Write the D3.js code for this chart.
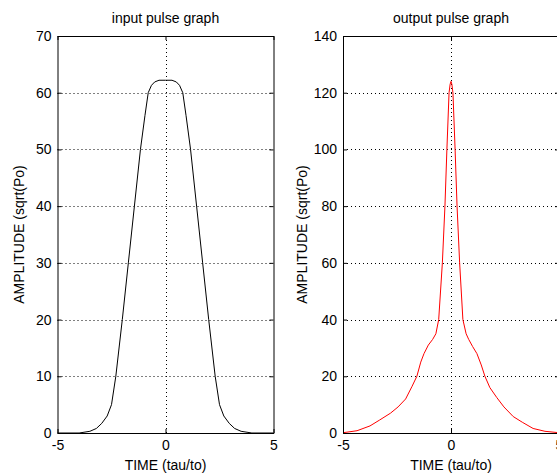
<!DOCTYPE html>
<html>
<head>
<meta charset="utf-8">
<script src="https://cdn.jsdelivr.net/npm/d3@7"></script>
<style>
    body { margin: 0; background: #fff; overflow: hidden; }
    svg { display: block; font-family: "Liberation Sans", Arial, sans-serif; }
    .axis text { font-size: 14px; fill: #000; }
    .axis path, .axis line { stroke: #000; }
    .grid line { stroke: #000; stroke-dasharray: 1,3; }
</style>
</head>
<body>
<script>
"use-strict";

var width = 557,
    height = 473;

// input pulse (left panel)
var inputTime = [-5, -4, -3.5, -3.2, -2.95, -2.7, -2.5, -2.3, -2.0, -1.72, -1.44, -1.16, -0.95, -0.8, -0.65, -0.5, -0.3,
                 0, 0.3, 0.5, 0.65, 0.8, 0.95, 1.16, 1.44, 1.72, 2.0, 2.3, 2.5, 2.7, 2.95, 3.2, 3.5, 4, 5];
var inputAmp = [0, 0, 0.3, 0.8, 1.7, 3.0, 5.0, 10, 20, 30, 40, 50, 56, 60, 61.3, 61.9, 62.2,
                62.2, 62.2, 61.9, 61.3, 60, 56, 50, 40, 30, 20, 10, 5.0, 3.0, 1.7, 0.8, 0.3, 0, 0];

// output pulse (right panel)
var outputTime = [-5, -4.35, -3.75, -3.3, -2.8, -2.45, -2.1, -1.8, -1.58, -1.4, -1.25, -1.05, -0.85, -0.7, -0.57,
                  -0.4, -0.28, -0.19, -0.09, -0.04, 0, 0.04, 0.09, 0.19, 0.28, 0.4, 0.55, 0.7, 0.82, 1.0, 1.2,
                  1.4, 1.57, 1.8, 2.12, 2.45, 2.88, 3.3, 3.8, 4.35, 5];
var outputAmp = [0.1, 0.8, 2.5, 4.6, 7, 9.2, 12, 16.5, 20, 25, 28, 31, 33, 35, 40,
                 60, 80, 100, 120, 123, 124, 123, 120, 100, 80, 60, 40, 35, 33, 30.5, 28,
                 24, 20, 16, 12.5, 9.2, 5.8, 3.8, 1.6, 0.6, 0.1];

var xTicks = [-5, 0, 5];
var inputTicks = [0, 10, 20, 30, 40, 50, 60, 70];
var outputTicks = [0, 20, 40, 60, 80, 100, 120, 140];

var panels = [
    { title: "input pulse graph", t: inputTime, a: inputAmp, yMax: 70, yTicks: inputTicks,
      left: 57.5, right: 273.5, ylab: 23.5, color: "#000" },
    { title: "output pulse graph", t: outputTime, a: outputAmp, yMax: 140, yTicks: outputTicks,
      left: 343, right: 559, ylab: 307, color: "#ff0000" }
];

var yTop = 36, yBottom = 433;

function plain(d) { return String(d); }

var svg = d3.select("body")
    .append("svg")
    .attr("width", width)
    .attr("height", height);

panels.forEach(function (p) {
    var x = d3.scaleLinear().domain([-5, 5]).range([p.left, p.right]);
    var y = d3.scaleLinear().domain([0, p.yMax]).range([yBottom, yTop]);
    var g = svg.append("g");

    // dotted grid
    var grid = g.append("g").attr("class", "grid");
    grid.selectAll(".gy").data(p.yTicks.slice(1, -1)).enter()
        .append("line")
        .attr("x1", p.left).attr("x2", p.right)
        .attr("y1", function (d) { return Math.round(y(d)) + 0.5; })
        .attr("y2", function (d) { return Math.round(y(d)) + 0.5; });
    grid.selectAll(".gx").data(xTicks.slice(1, -1)).enter()
        .append("line")
        .attr("y1", yTop).attr("y2", yBottom)
        .attr("x1", function (d) { return Math.round(x(d)) + 0.5; })
        .attr("x2", function (d) { return Math.round(x(d)) + 0.5; });

    // curve
    var line = d3.line()
        .x(function (d, i) { return x(p.t[i]); })
        .y(function (d) { return y(d); });
    g.append("path")
        .attr("d", line(p.a))
        .attr("fill", "none")
        .attr("stroke", p.color)
        .attr("stroke-width", 1);

    // axes with inward ticks
    g.append("g").attr("class", "axis")
        .attr("transform", "translate(0," + yBottom + ")")
        .call(d3.axisBottom(x).tickValues(xTicks).tickSize(-4).tickSizeOuter(0).tickPadding(7).tickFormat(plain));
    g.append("g").attr("class", "axis")
        .attr("transform", "translate(0," + yTop + ")")
        .call(d3.axisTop(x).tickValues(xTicks).tickSize(-4).tickSizeOuter(0).tickFormat(""));
    g.append("g").attr("class", "axis")
        .attr("transform", "translate(" + p.left + ",0)")
        .call(d3.axisLeft(y).tickValues(p.yTicks).tickSize(-4).tickSizeOuter(0).tickPadding(6).tickFormat(plain));
    g.append("g").attr("class", "axis")
        .attr("transform", "translate(" + p.right + ",0)")
        .call(d3.axisRight(y).tickValues(p.yTicks).tickSize(-4).tickSizeOuter(0).tickFormat(""));

    var mid = (p.left + p.right) / 2;
    g.append("text")
        .attr("x", mid).attr("y", 23)
        .attr("text-anchor", "middle")
        .attr("font-size", 14)
        .text(p.title);
    g.append("text")
        .attr("x", mid).attr("y", 470)
        .attr("text-anchor", "middle")
        .attr("font-size", 14)
        .text("TIME (tau/to)");
    g.append("text")
        .attr("transform", "translate(" + p.ylab + "," + (yTop + yBottom) / 2 + ") rotate(-90)")
        .attr("text-anchor", "middle")
        .attr("font-size", 14)
        .text("AMPLITUDE (sqrt(Po)");
});
</script>
</body>
</html>
